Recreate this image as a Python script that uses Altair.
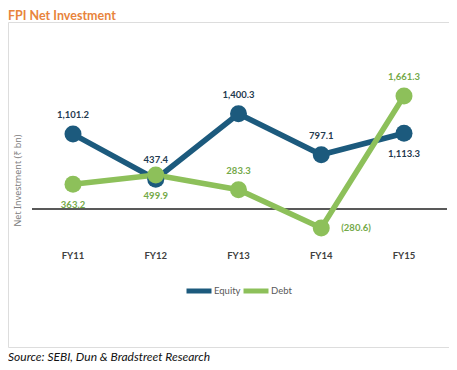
import altair as alt
import pandas as pd

fy = ["FY11", "FY12", "FY13", "FY14", "FY15"]
equity = [1101.2, 437.4, 1400.3, 797.1, 1113.3]
debt = [363.2, 499.9, 283.3, -280.6, 1661.3]
series_names = ["Equity", "Debt"]
line_colors = ["#1c5a7d", "#8dc05a"]
label_colors = {"Equity": "#1f3a4f", "Debt": "#74a948"}
title_text = "FPI Net Investment"
source_text = "Source: SEBI, Dun & Bradstreet Research"

# label placement (relative to point)
place = {
    ("Equity", "FY11"): "above", ("Equity", "FY12"): "above", ("Equity", "FY13"): "above",
    ("Equity", "FY14"): "above", ("Equity", "FY15"): "below",
    ("Debt", "FY11"): "below", ("Debt", "FY12"): "below", ("Debt", "FY13"): "above",
    ("Debt", "FY14"): "right", ("Debt", "FY15"): "above",
}


def fmt(v):
    s = f"{abs(v):,.1f}"
    return f"({s})" if v < 0 else s


rows = []
for name, vals in zip(series_names, [equity, debt]):
    for f, v in zip(fy, vals):
        rows.append({"FY": f, "series": name, "value": v, "label": fmt(v), "place": place[(name, f)]})
df = pd.DataFrame(rows)

W, H = 441, 325

x_enc = alt.X("FY:N", sort=fy, axis=None,
              scale=alt.Scale(type="point", range=[65, 396], padding=0))
y_enc = alt.Y("value:Q", scale=alt.Scale(domain=[-2030, 2750], nice=False, zero=False),
              axis=alt.Axis(title="Net Investment (₹ bn)", labels=False, ticks=False,
                            domain=False, grid=False, titleX=9, titleY=158,
                            titleFont="Noto Sans", titleFontSize=9, titleFontWeight="normal",
                            titleColor="#808080", titleAlign="center", titleBaseline="middle",
                            titleAngle=270))
color_scale = alt.Scale(domain=series_names, range=line_colors)

base = alt.Chart(df).encode(x=x_enc, y=y_enc)

zero = alt.Chart(pd.DataFrame({"z": [0]})).mark_rule(color="#595959", strokeWidth=2).encode(
    y=alt.Y("z:Q"), x=alt.value(24), x2=alt.value(439))

legend = alt.Legend(title=None, orient="none", legendX=176, legendY=254, direction="horizontal",
                    symbolType="stroke", symbolStrokeWidth=5, symbolSize=625,
                    labelFont="Lato", labelFontSize=9.5, labelColor="#595959",
                    columnPadding=-8, labelOffset=0, symbolOffset=0)

lines = base.mark_line(strokeWidth=5.5).encode(
    color=alt.Color("series:N", scale=color_scale, legend=legend, sort=series_names),
    detail="series:N")
points = base.mark_point(filled=True, opacity=1, size=289, shape="circle").encode(
    color=alt.Color("series:N", scale=color_scale, legend=legend, sort=series_names))

lab_color = alt.condition("datum.series == 'Equity'", alt.value(label_colors["Equity"]),
                          alt.value(label_colors["Debt"]))

text_above = base.transform_filter("datum.place == 'above'").mark_text(
    font="Lato", fontSize=9.5, fontWeight="bold", dy=-19).encode(text="label:N", color=lab_color)
text_below = base.transform_filter("datum.place == 'below'").mark_text(
    font="Lato", fontSize=9.5, fontWeight="bold", dy=21).encode(text="label:N", color=lab_color)
text_right = base.transform_filter("datum.place == 'right'").mark_text(
    font="Lato", fontSize=9.5, fontWeight="bold", dx=20, align="left").encode(
    text="label:N", color=lab_color)

cat_df = pd.DataFrame({"FY": fy})
cats = alt.Chart(cat_df).mark_text(font="Lato", fontSize=9.5, fontWeight="bold",
                                   color="#404040").encode(
    x=x_enc, y=alt.value(234), text="FY:N")

title = alt.Chart(pd.DataFrame({"t": [title_text]})).mark_text(
    font="Lato", fontSize=12.5, fontWeight="bold", align="left", baseline="top",
    color="#e8843c").encode(x=alt.value(0), y=alt.value(-12), text="t:N")

src = alt.Chart(pd.DataFrame({"t": [source_text]})).mark_text(
    font="Lato", fontSize=12, fontStyle="italic", fontWeight="normal", align="left",
    baseline="top", color="#111111"
).encode(x=alt.value(0), y=alt.value(H + 5), text="t:N")

chart = alt.layer(zero, lines, points, text_above, text_below, text_right, cats, title, src).properties(
    width=W, height=H,
    padding={"top": 2, "left": 0, "right": 0, "bottom": 0},
).configure_view(fill="#dff2fb", stroke=None).configure(background="white")

chart.save("out.html", embed_options={"renderer": "svg", "actions": False})
